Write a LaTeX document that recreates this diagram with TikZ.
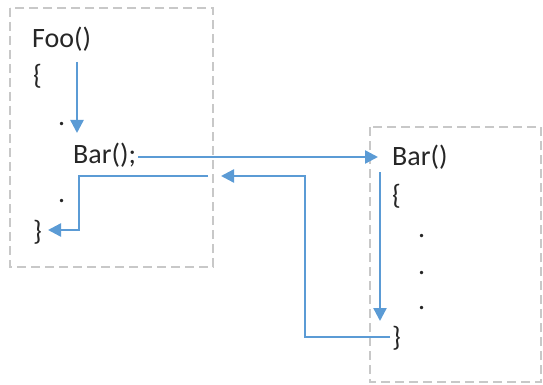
\documentclass[tikz,border=0pt]{standalone}
\usepackage{fontspec}
\setmainfont{Carlito}
\usetikzlibrary{arrows.meta}
\definecolor{flowblue}{HTML}{5B9BD5}
\definecolor{boxgray}{HTML}{C8C8C8}
\begin{document}
\begin{tikzpicture}[x=1pt,y=-1pt,
  code/.style={anchor=base west,inner sep=0pt,font=\fontsize{28}{34}\selectfont,text=black!85},
  frame/.style={draw=boxgray,line width=2.5pt,dash pattern=on 9pt off 5pt},
  flow/.style={draw=flowblue,line width=2.4pt,-{Triangle[length=13pt,width=13pt]}}]
\useasboundingbox (0,0) rectangle (543,385);
% frames
\draw[frame] (10,8) rectangle (213,267);
\draw[frame] (370,127) rectangle (541,382);
% left code
\node[code] (foo) at (32,48) {Foo()};
\node[code] (lb1) at (33,85) {\{};
\node[code] (d1) at (58,125) {.};
\node[code] (barcall) at (73,163) {Bar();};
\node[code] (d2) at (58,202) {.};
\node[code] (rb1) at (33,240) {\}};
% right code
\node[code] (bar) at (392,165) {Bar()};
\node[code] (lb2) at (392,204) {\{};
\node[code] (d3) at (418,237) {.};
\node[code] (d4) at (418,274) {.};
\node[code] (d5) at (418,309) {.};
\node[code] (rb2) at (392,346) {\}};
% coordinates
\coordinate (a1s) at (77,62);
\coordinate (a1e) at (77,133);
\coordinate (a2e) at (378,157);
\coordinate (a3s) at (390,337);
\coordinate (a3b1) at (305,337);
\coordinate (a3b2) at (305,176);
\coordinate (a3e) at (221,176);
\coordinate (a4s) at (208,176);
\coordinate (a4b1) at (79,176);
\coordinate (a4b2) at (79,230);
\coordinate (a4e) at (48,230);
\coordinate (a5s) at (380,172);
\coordinate (a5e) at (380,321);
% flow
\draw[flow] (a1s) -- (a1e);
\draw[flow] (barcall.east |- a2e) ++(2,0) -- (a2e);
\draw[flow] (a3s) -- (a3b1) -- (a3b2) -- (a3e);
\draw[flow] (a4s) -- (a4b1) -- (a4b2) -- (a4e);
\draw[flow] (a5s) -- (a5e);
\end{tikzpicture}
\end{document}
